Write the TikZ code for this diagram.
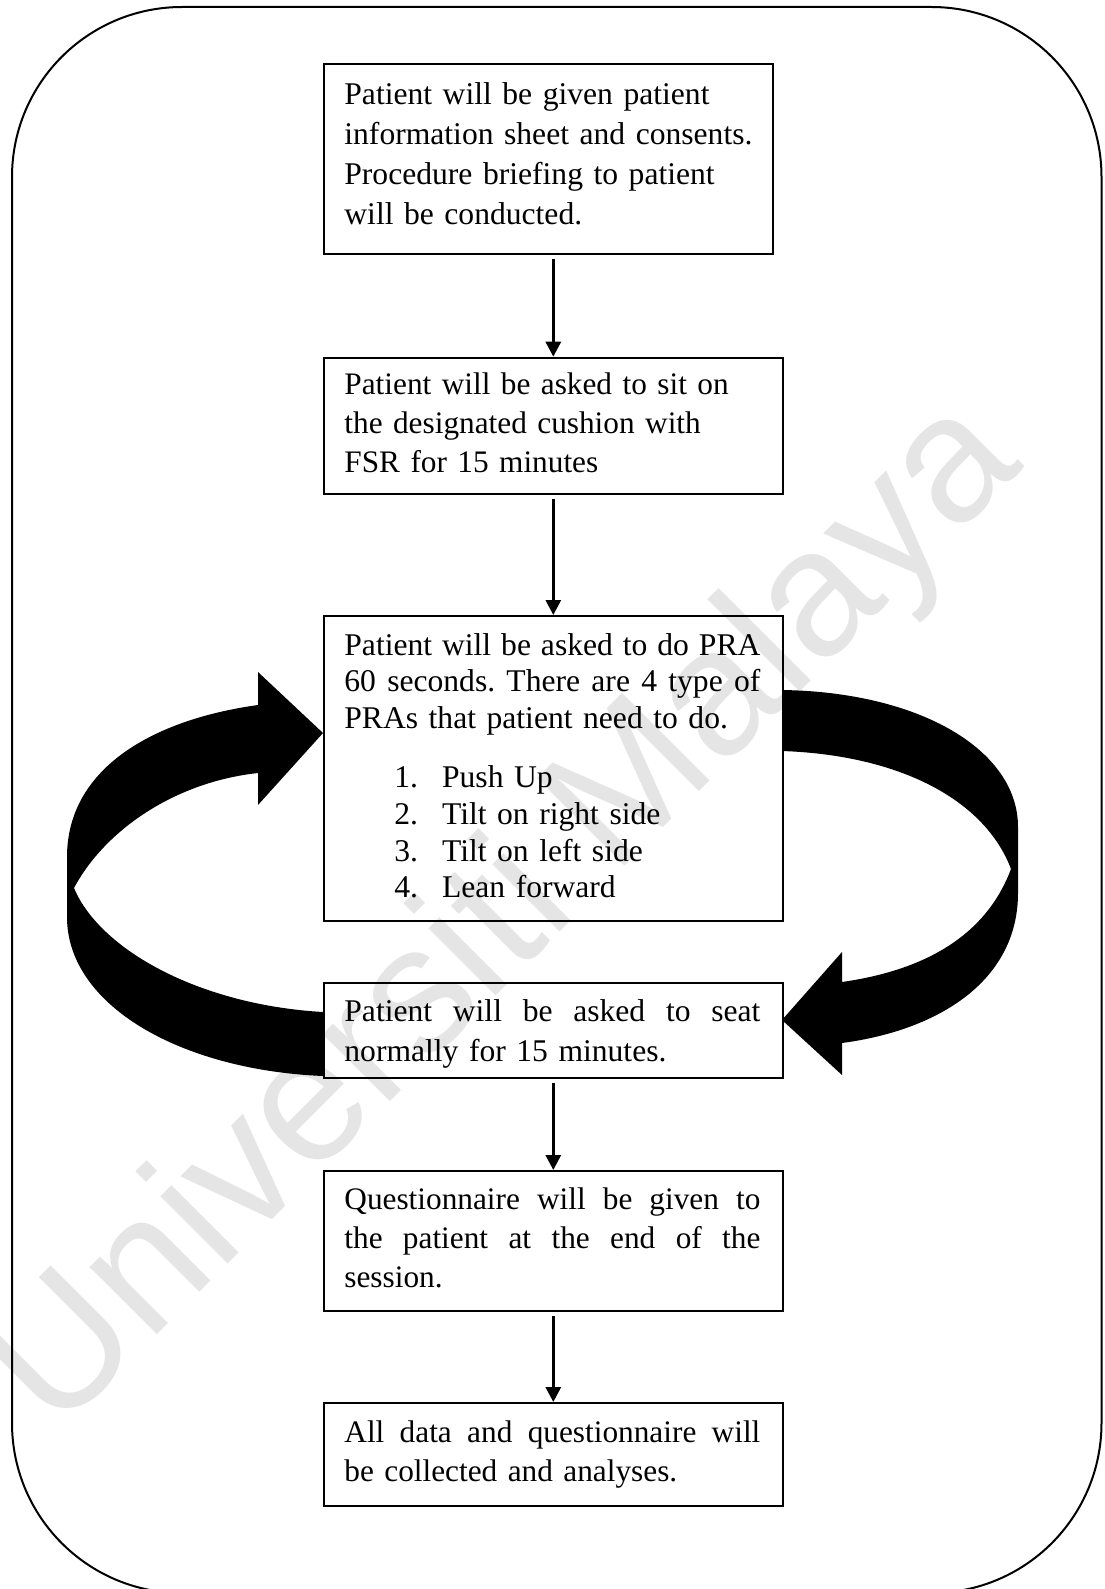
\documentclass[tikz,border=0pt]{standalone}
\usepackage{fontspec}
\setmainfont{Liberation Serif}
\newfontfamily\wmfont{Liberation Sans}
\usetikzlibrary{arrows.meta}
\newcommand\jline[1]{\leavevmode\hbox to 416bp{\spaceskip=0.25em plus 1fil\xspaceskip=0.25em plus 1fil\relax #1}}
\newcommand\litem[2]{\hspace*{50bp}\makebox[47.7bp][l]{#1}#2}
\begin{document}
\frenchspacing
\begin{tikzpicture}[x=1bp,y=-1bp,
  flowbox/.style={draw, line width=2.2bp, inner sep=0pt, anchor=north west, minimum height=#1},
  boxtext/.style={anchor=north west, inner sep=0pt, align=left, text width=430bp,
    font=\frenchspacing\fontsize{31.3bp}{39bp}\selectfont},
  flowarrow/.style={line width=3bp, -{Triangle[width=15bp,length=15bp]}},
  bigarrow/.style={fill=black, draw=none},
  watermark/.style={rotate=45, text=black!10, inner sep=0pt,
    font=\wmfont\fontsize{180bp}{180bp}\selectfont}]
\useasboundingbox (0,0) rectangle (1104,1589);

% watermark
\node[watermark] (wm) at (508,918) {Universiti Malaya};

% outer frame
\draw[line width=2bp, rounded corners=170bp] (12,7) rectangle (1101.5,1593);

% big curved arrows
\fill[bigarrow] (323,1076) .. controls (180,1070) and (67,1005) .. (67,917)
  -- (67,857) .. controls (67,770) and (150,720) .. (258,705)
  -- (258,672) -- (323,733) -- (258,805) -- (258,773)
  .. controls (175,782) and (105,830) .. (74,888)
  .. controls (100,950) and (200,1005) .. (323,1012) -- cycle;
\fill[bigarrow] (782,690) .. controls (920,692) and (1018,750) .. (1018,827)
  -- (1018,893) .. controls (1018,980) and (940,1030) .. (842,1043)
  -- (842,1075) -- (782,1020) -- (842,952) -- (842,982)
  .. controls (940,968) and (990,925) .. (1011,869)
  .. controls (985,800) and (900,755) .. (782,751) -- cycle;

% boxes
\node[flowbox=190.3bp, minimum width=449bp] (b1) at (322.7,62.7) {};
\node[flowbox=136.3bp, minimum width=459bp] (b2) at (322.7,356.7) {};
\node[flowbox=305bp,   minimum width=459bp] (b3) at (322.7,615) {};
\node[flowbox=95.3bp,  minimum width=459bp] (b4) at (322.7,981.7) {};
\node[flowbox=140bp,   minimum width=459bp] (b5) at (322.7,1170) {};
\node[flowbox=103bp,   minimum width=459bp] (b6) at (322.7,1402) {};

% texts
\node[boxtext, font=\fontsize{31.6bp}{40bp}\selectfont] (t1) at ([xshift=21.5bp,yshift=-20bp]b1.north west)
  {Patient will be given patient\\information sheet and consents.\\Procedure briefing to patient\\will be conducted.};
\node[boxtext] (t2) at ([xshift=21.5bp,yshift=-16bp]b2.north west)
  {Patient will be asked to sit on\\the designated cushion with\\FSR for 15 minutes};
\node[boxtext, font=\fontsize{31.6bp}{36.8bp}\selectfont] (t3) at ([xshift=21.5bp,yshift=-18bp]b3.north west)
  {\jline{Patient will be asked to do PRA}\\\jline{60 seconds. There are 4 type of}\\PRAs that patient need to do.\\[22bp]%
   \litem{1.}{Push Up}\\\litem{2.}{Tilt on right side}\\\litem{3.}{Tilt on left side}\\\litem{4.}{Lean forward}};
\node[boxtext, font=\fontsize{31.6bp}{40bp}\selectfont] (t4) at ([xshift=21.5bp,yshift=-18bp]b4.north west)
  {\jline{Patient will be asked to seat}\\normally for 15 minutes.};
\node[boxtext] (t5) at ([xshift=21.5bp,yshift=-18bp]b5.north west)
  {\jline{Questionnaire will be given to}\\\jline{the patient at the end of the}\\session.};
\node[boxtext] (t6) at ([xshift=21.5bp,yshift=-19bp]b6.north west)
  {\jline{All data and questionnaire will}\\be collected and analyses.};

% connectors
\draw[flowarrow] ([yshift=-4bp]b1.south -| b2.north) -- (b2.north);
\draw[flowarrow] ([yshift=-4bp]b2.south) -- (b3.north);
\draw[flowarrow] ([yshift=-4bp]b4.south) -- (b5.north);
\draw[flowarrow] ([yshift=-4bp]b5.south) -- (b6.north);
\end{tikzpicture}
\end{document}
